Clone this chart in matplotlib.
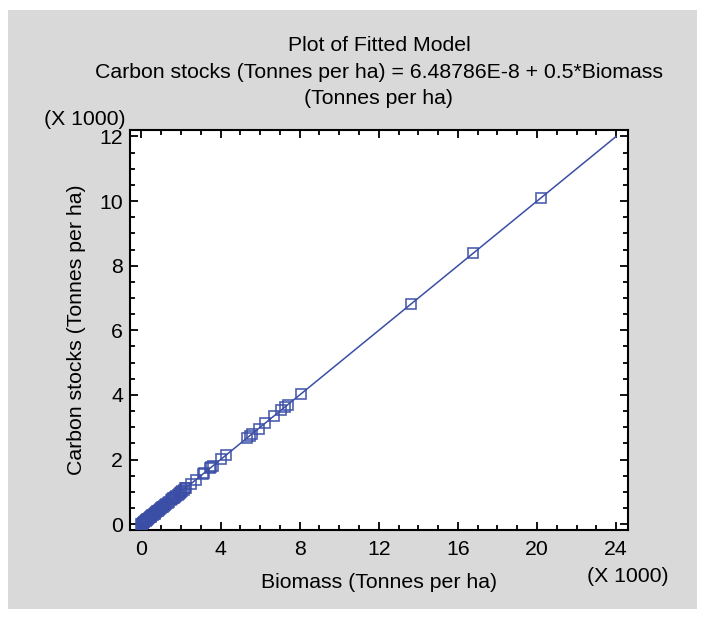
import numpy as np
import matplotlib.pyplot as plt
from matplotlib.patches import Rectangle
from matplotlib.ticker import MultipleLocator, FuncFormatter

plt.rcParams['font.family'] = ['Liberation Sans', 'DejaVu Sans']

biomass = [0, 20, 40, 60, 90, 120, 150, 180, 210, 240, 270, 300, 340, 380,
           420, 460, 500, 540, 580, 620, 660, 700, 740, 790, 840, 890, 940,
           990, 1040, 1090, 1140, 1200, 1260, 1320, 1400, 1470, 1530, 1590,
           1650, 1710, 1770, 1830, 1890, 1950, 2010, 2070, 2140, 2210, 2260,
           2480, 2740, 3110, 3180, 3450, 3520, 3620, 4030, 4290, 5340, 5470,
           5590, 5920, 6260, 6720, 7060, 7280, 7390, 8060, 13650, 16780, 20200]
carbon = [0, 10, 20, 30, 45, 60, 75, 90, 105, 120, 135, 150, 170, 190,
          210, 230, 250, 270, 290, 310, 330, 350, 370, 395, 420, 445, 470,
          495, 520, 545, 570, 600, 630, 660, 700, 735, 765, 795,
          825, 855, 885, 915, 945, 975, 1005, 1035, 1070, 1105, 1130,
          1240, 1370, 1555, 1590, 1725, 1760, 1810, 2015, 2145, 2670, 2735,
          2795, 2960, 3130, 3360, 3530, 3640, 3695, 4030, 6825, 8390, 10100]

# fitted model: intercept and slope
intercept = 6.48786e-8
slope = 0.5
fit_x = [0, 24000]

blue = '#3b4ea6'
fs = 15.3

fig = plt.figure(figsize=(7.05, 6.19), dpi=100)
fig.patches.append(Rectangle((8/705, 10/619), 689/705, 599/619,
                             transform=fig.transFigure, facecolor='#d9d9d9',
                             edgecolor='none', zorder=-10))

ax = fig.add_axes([130/705, 1 - 530/619, 498/705, 400/619])
ax.set_facecolor('white')

fit_y = [intercept + slope * v for v in fit_x]
ax.plot(fit_x, fit_y, color=blue, linewidth=1.1, zorder=2)
ax.plot(biomass, carbon, linestyle='none', marker='s', markersize=6.5,
        markerfacecolor='none', markeredgecolor=blue, markeredgewidth=1.2,
        alpha=0.9, zorder=3)

ax.set_xlim(-580, 24600)
ax.set_ylim(-180, 12200)

ax.xaxis.set_major_locator(MultipleLocator(4000))
ax.xaxis.set_minor_locator(MultipleLocator(1000))
ax.yaxis.set_major_locator(MultipleLocator(2000))
ax.yaxis.set_minor_locator(MultipleLocator(500))
thousands = FuncFormatter(lambda v, p: '%d' % round(v / 1000))
ax.xaxis.set_major_formatter(thousands)
ax.yaxis.set_major_formatter(thousands)

ax.tick_params(which='both', direction='in', top=True, right=True,
               labelsize=fs, width=1.3, colors='black')
ax.tick_params(which='major', length=6, pad=5)
ax.tick_params(axis='x', which='major', pad=7)
ax.tick_params(which='minor', length=3.5)
for s in ax.spines.values():
    s.set_linewidth(1.5)

ax.set_xlabel('Biomass (Tonnes per ha)', fontsize=fs, labelpad=10)
ax.set_ylabel('Carbon stocks (Tonnes per ha)', fontsize=fs, labelpad=10)

fig.text(628/705, 1 - 576/619, '(X 1000)', fontsize=fs, ha='center', va='center')
fig.text(85/705, 1 - 119/619, '(X 1000)', fontsize=fs, ha='center', va='center')

fig.text(379/705, 1 - 36/619,
         'Plot of Fitted Model\n'
         'Carbon stocks (Tonnes per ha) = 6.48786E-8 + 0.5*Biomass\n'
         '(Tonnes per ha)',
         fontsize=fs, ha='center', va='top', linespacing=1.5)

fig.savefig('out.png', dpi=100)
